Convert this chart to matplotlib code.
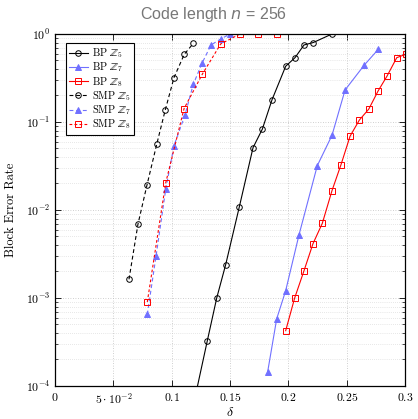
import numpy as np
import matplotlib
matplotlib.use('Agg')
import matplotlib.pyplot as plt
from matplotlib.ticker import FixedLocator, FixedFormatter, LogLocator, NullFormatter

plt.rcParams['mathtext.fontset'] = 'cm'
plt.rcParams['font.family'] = ['cmr10', 'DejaVu Serif']
plt.rcParams['axes.formatter.use_mathtext'] = True

# BP decoder curves
bp5_x = [0.1185, 0.1305, 0.1386, 0.1463, 0.158, 0.1697, 0.1777, 0.186, 0.1977, 0.2057, 0.2134, 0.2214, 0.2374]
bp5_y = [6.0e-5, 3.25e-4, 1.0e-3, 2.4e-3, 1.09e-2, 5.1e-2, 8.3e-2, 0.179, 0.43, 0.538, 0.75, 0.80, 1.0]

bp7_x = [0.1823, 0.19, 0.1977, 0.2091, 0.2248, 0.2374, 0.2486, 0.2651, 0.2771]
bp7_y = [1.46e-4, 5.8e-4, 1.21e-3, 5.2e-3, 3.19e-2, 7.06e-2, 0.231, 0.444, 0.67]

bp8_x = [0.1977, 0.2054, 0.2134, 0.2211, 0.2291, 0.2374, 0.2451, 0.2529, 0.2608, 0.2689, 0.2769, 0.2846, 0.2929, 0.3006]
bp8_y = [4.25e-4, 1.0e-3, 2.04e-3, 4.14e-3, 7.06e-3, 1.66e-2, 3.27e-2, 6.9e-2, 0.105, 0.14, 0.225, 0.333, 0.538, 0.588]

# SMP decoder curves
smp5_x = [0.0634, 0.0711, 0.0789, 0.0872, 0.0945, 0.102, 0.1108, 0.1185]
smp5_y = [1.63e-3, 6.9e-3, 1.94e-2, 5.6e-2, 0.137, 0.32, 0.588, 0.78]

smp7_x = [0.0791, 0.0866, 0.0949, 0.102, 0.1114, 0.1185, 0.126, 0.1337, 0.142, 0.15]
smp7_y = [6.5e-4, 3.0e-3, 1.72e-2, 5.4e-2, 0.12, 0.268, 0.465, 0.75, 0.877, 1.0]

smp8_x = [0.0791, 0.0949, 0.1106, 0.1263, 0.142, 0.1586, 0.174, 0.190]
smp8_y = [9.0e-4, 2.04e-2, 0.142, 0.35, 0.77, 1.0, 1.0, 1.0]

xticks = [0, 0.05, 0.1, 0.15, 0.2, 0.25, 0.3]
xticklabels = ['$0$', r'$5\cdot10^{-2}$', '$0.1$', '$0.15$', '$0.2$', '$0.25$', '$0.3$']

blue = '#7070ff'
red = '#ff0000'

fig = plt.figure(figsize=(4.18, 4.19), dpi=100)
ax = fig.add_axes([0.1316, 0.0788, 0.8374, 0.8401])

ms = 4
lw = 0.8
dash = (0, (3.5, 2.5))
ax.plot(bp5_x, bp5_y, '-', color='black', lw=lw, marker='o', ms=ms, mfc='none', mew=0.7, label=r'BP $\mathbb{Z}_5$')
ax.plot(bp7_x, bp7_y, '-', color=blue, lw=lw, marker='^', ms=ms, mfc=blue, mew=0.7, label=r'BP $\mathbb{Z}_7$')
ax.plot(bp8_x, bp8_y, '-', color=red, lw=lw, marker='s', ms=ms, mfc='none', mew=0.7, label=r'BP $\mathbb{Z}_8$')
ax.plot(smp5_x, smp5_y, color='black', lw=lw, ls=dash, marker='o', ms=ms, mfc='none', mew=0.7, label=r'SMP $\mathbb{Z}_5$')
ax.plot(smp7_x, smp7_y, color=blue, lw=lw, ls=dash, marker='^', ms=ms, mfc=blue, mew=0.7, label=r'SMP $\mathbb{Z}_7$')
ax.plot(smp8_x, smp8_y, color=red, lw=lw, ls=(0, (2.5, 2)), marker='s', ms=ms, mfc='none', mew=0.7, label=r'SMP $\mathbb{Z}_8$')

ax.set_yscale('log')
ax.set_xlim(0, 0.3)
ax.set_ylim(1e-4, 1)
ax.xaxis.set_major_locator(FixedLocator(xticks))
ax.xaxis.set_major_formatter(FixedFormatter(xticklabels))
ax.yaxis.set_major_locator(LogLocator(base=10, numticks=10))
ax.yaxis.set_minor_locator(LogLocator(base=10, subs=np.arange(2, 10), numticks=10))
ax.yaxis.set_minor_formatter(NullFormatter())

ax.grid(True, which='major', ls=(0, (1, 2)), color='#c0c0c0', lw=0.6)
ax.grid(True, which='minor', axis='y', ls=(0, (1, 2)), color='#d0d0d0', lw=0.5)
ax.tick_params(which='both', direction='in', top=True, right=True, labelsize=8.5)
ax.tick_params(which='major', length=4, width=0.6)
ax.tick_params(which='minor', length=2, width=0.5)
for s in ax.spines.values():
    s.set_linewidth(0.9)

ax.set_xlabel(r'$\delta$', fontsize=10, labelpad=0)
ax.set_ylabel('Block Error Rate', fontsize=9, labelpad=6)

leg = ax.legend(loc='upper left', bbox_to_anchor=(0.025, 0.98), fontsize=7.5, fancybox=False,
                edgecolor='black', framealpha=1, handlelength=1.8, borderpad=0.3,
                labelspacing=0.05, handletextpad=0.4, borderaxespad=0.2)
leg.get_frame().set_linewidth(0.8)

fig.text(0.51, 0.965, 'Code length $n$ = 256', ha='center', va='center', fontsize=11.5,
         color='#777777', family=['Liberation Sans', 'DejaVu Sans'],
         math_fontfamily='dejavusans')

fig.savefig('out.png', dpi=100)
